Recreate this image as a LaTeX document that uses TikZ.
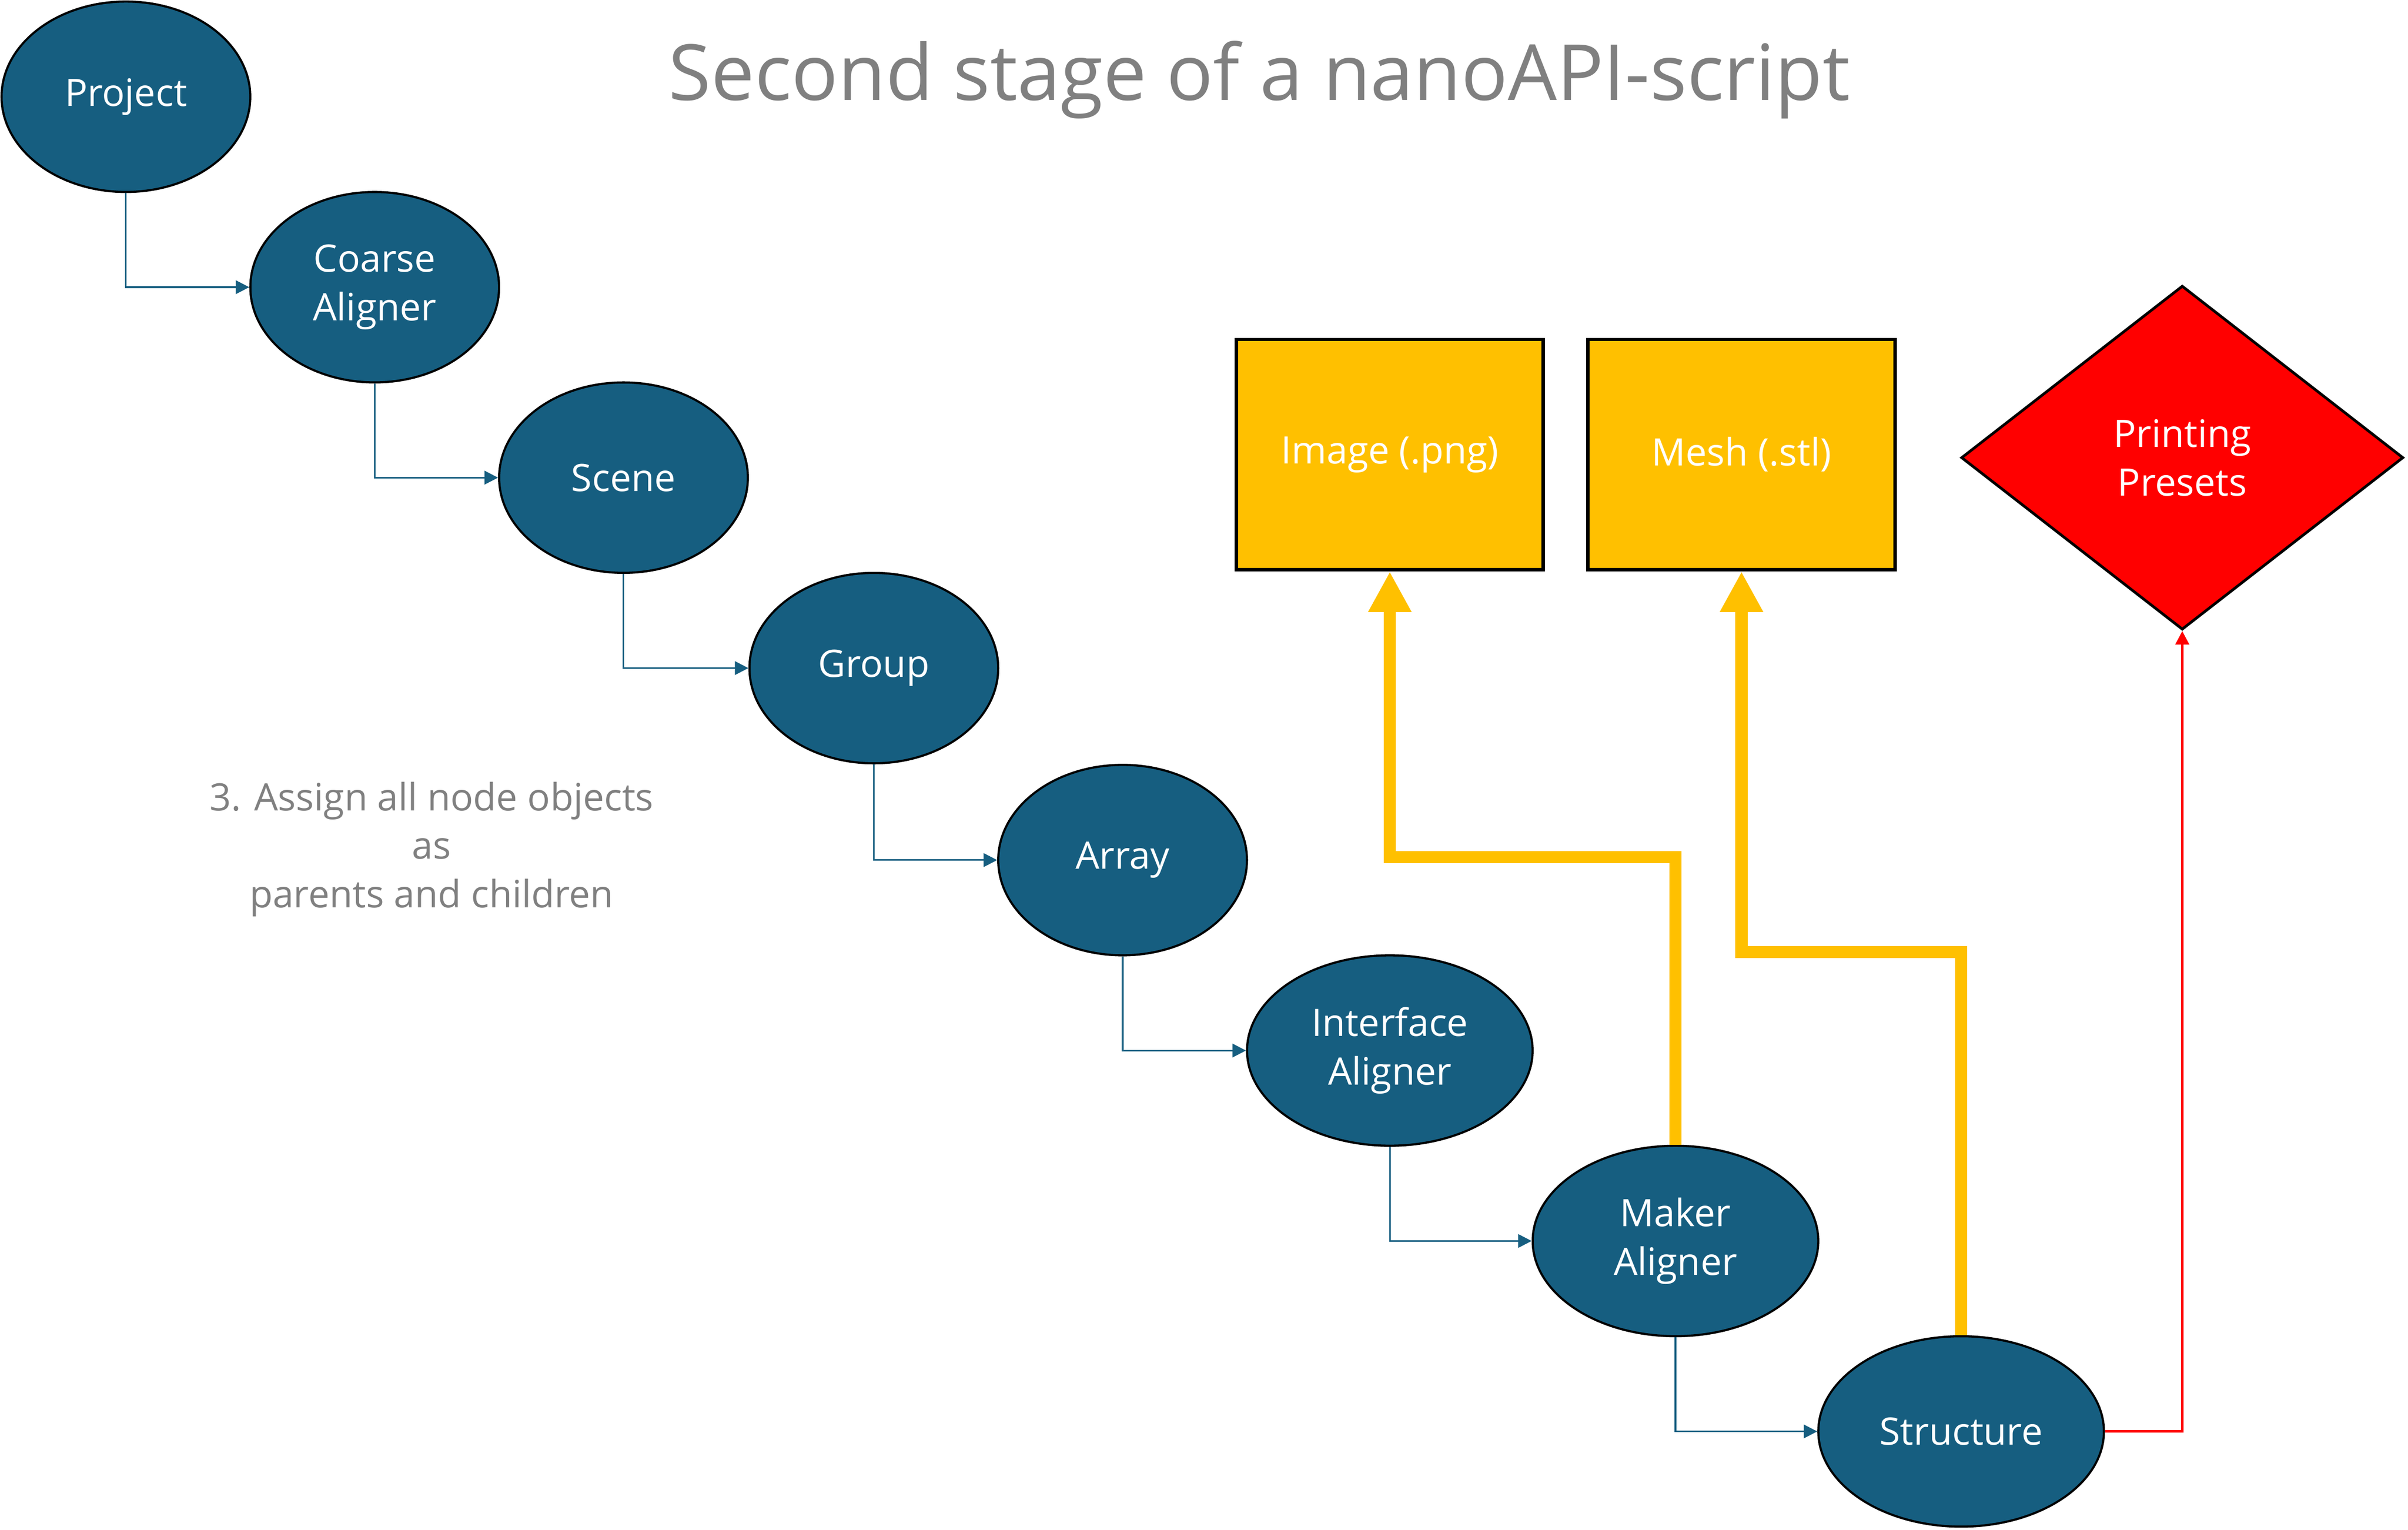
\documentclass[tikz,border=0pt]{standalone}
\usepackage{fontspec}
\setmainfont{Open Sans}
\usepackage{tikz}
\usepackage{xcolor}
\usetikzlibrary{shapes.geometric,arrows.meta,positioning}
\definecolor{objcolor}{RGB}{22,94,128}
\definecolor{filecolor}{RGB}{255,192,0}
\definecolor{presetcolor}{RGB}{255,0,0}
\definecolor{notecolor}{RGB}{128,128,128}

\begin{document}
\begin{tikzpicture}[
    x=0.02cm, y=-0.02cm,
    obj/.style={ellipse, draw=black, line width=0.8pt, fill=objcolor, text=white, minimum width=3.24cm, minimum height=2.48cm, inner sep=0pt, align=center, font=\fontsize{14}{18}\selectfont},
    objwide/.style={obj, minimum width=3.72cm},
    outfile/.style={rectangle, draw=black, line width=1.3pt, fill=filecolor, text=white, minimum width=4cm, minimum height=3cm, font=\fontsize{14}{18}\selectfont},
    preset/.style={diamond, draw=black, line width=1pt, fill=presetcolor, text=white, minimum width=5.76cm, minimum height=4.48cm, inner sep=0pt, align=center, font=\fontsize{14}{18}\selectfont},
    link/.style={-{Triangle[length=5pt, width=5pt]}, draw=objcolor, line width=0.6pt},
    feed/.style={-{Triangle[length=15pt, width=15pt]}, draw=filecolor, line width=4.5pt},
    flow/.style={-{Triangle[length=5pt, width=5pt]}, draw=presetcolor, line width=0.9pt}
]
\useasboundingbox (0,0) rectangle (1568,996);

\node[font=\fontsize{28.7}{34}\selectfont, text=notecolor] (title) at (820,52) {Second stage of a nanoAPI-script};

% object chain
\node[obj] (project) at (82,63) {Project};
\node[obj] (coarse) at (244,187) {Coarse\\Aligner};
\node[obj] (scene) at (406,311) {Scene};
\node[obj] (group) at (569,435) {Group};
\node[obj] (array) at (731,560) {Array};
\node[objwide] (iface) at (905,684) {Interface\\Aligner};
\node[objwide] (maker) at (1091,808) {Maker\\Aligner};
\node[objwide] (structure) at (1277,932) {Structure};

% outputs
\node[outfile] (image) at (905,296) {Image (.png)};
\node[outfile] (mesh) at (1134,296) {Mesh (.stl)};
\node[preset] (presets) at (1421,298) {Printing\\Presets};

\node[text=notecolor, align=center, font=\fontsize{14}{18}\selectfont] (note) at (281,553) {3. Assign all node objects\\as\\parents and children};

\draw[link] (project.south) |- (coarse.west);
\draw[link] (coarse.south) |- (scene.west);
\draw[link] (scene.south) |- (group.west);
\draw[link] (group.south) |- (array.west);
\draw[link] (array.south) |- (iface.west);
\draw[link] (iface.south) |- (maker.west);
\draw[link] (maker.south) |- (structure.west);

\coordinate (imgbend) at (1091,558);
\coordinate (meshbend) at (1277,620);
\draw[feed] (maker.north) -- (imgbend) -| (image.south);
\draw[feed] (structure.north) -- (meshbend) -| (mesh.south);
\draw[flow] (structure.east) -| (presets.south);
\end{tikzpicture}
\end{document}
